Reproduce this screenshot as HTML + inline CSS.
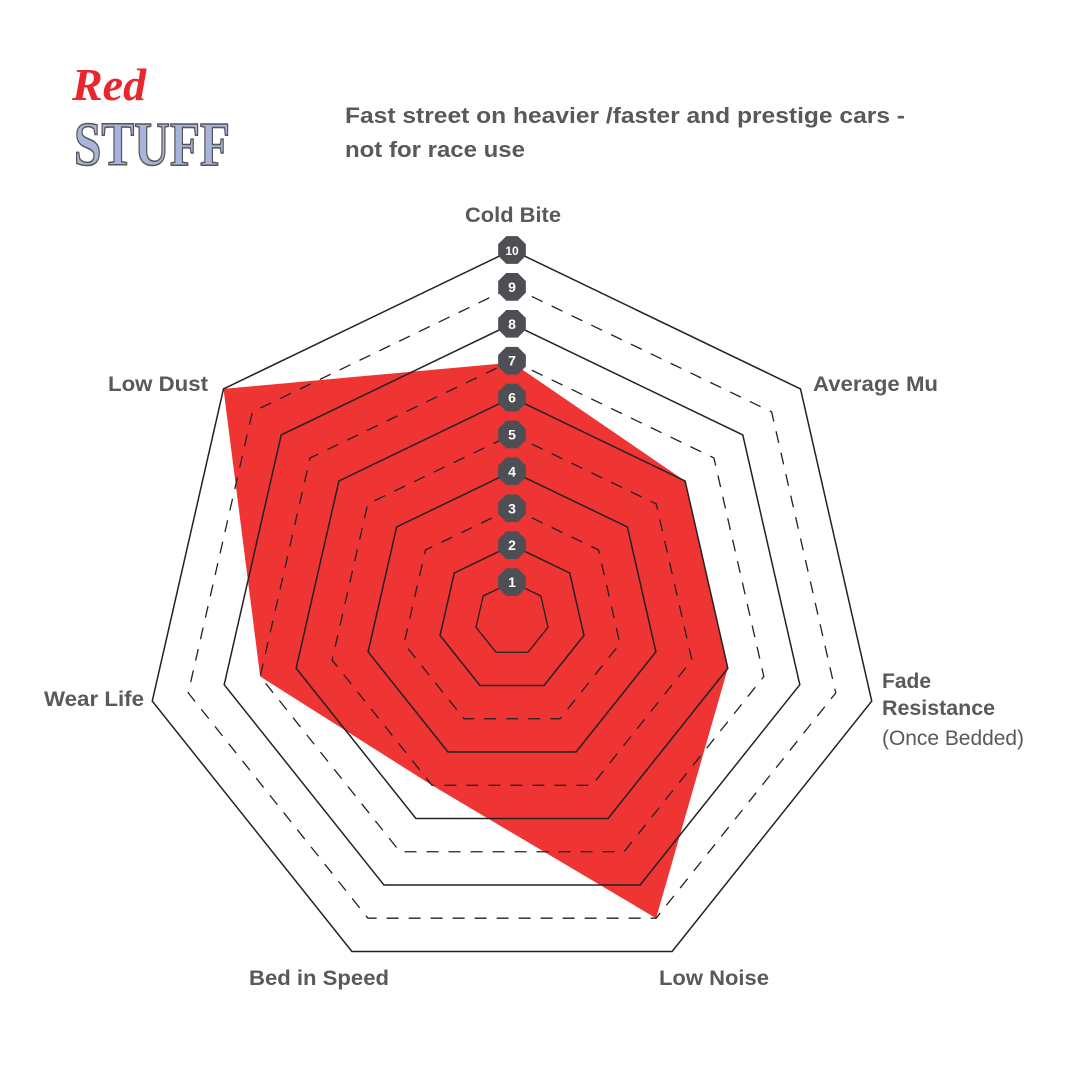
<!DOCTYPE html>
<html><head><meta charset="utf-8"><style>
body{margin:0;background:#fff;width:1080px;height:1080px;overflow:hidden}
svg{display:block}
text{font-family:"Liberation Sans",sans-serif;fill:#58595b;font-weight:bold}
</style></head><body>
<svg id="s" width="1080" height="1080" viewBox="0 0 1080 1080">
<text x="72" y="100" style="font-size:46px;font-style:italic;fill:#e8262b;font-family:'Liberation Serif',serif;font-weight:900">Red</text>
<text x="74" y="165" style="font-size:62px;fill:#a9b4dc;stroke:#555;stroke-width:1.5;font-family:'Liberation Serif',serif;font-weight:900" textLength="156" lengthAdjust="spacingAndGlyphs">STUFF</text>
<text x="345" y="123" style="font-size:22px" textLength="560" lengthAdjust="spacingAndGlyphs">Fast street on heavier /faster and prestige cars -</text>
<text x="345" y="157" style="font-size:22px" textLength="180" lengthAdjust="spacingAndGlyphs">not for race use</text>
<g id="g"></g>
<text x="513" y="222" text-anchor="middle" style="font-size:21px" textLength="96" lengthAdjust="spacingAndGlyphs">Cold Bite</text>
<text x="813" y="391" style="font-size:21px" textLength="125" lengthAdjust="spacingAndGlyphs">Average Mu</text>
<text x="882" y="688" style="font-size:21px">Fade</text>
<text x="882" y="715" style="font-size:21px" textLength="113" lengthAdjust="spacingAndGlyphs">Resistance</text>
<text x="882" y="745" style="font-size:21px;font-weight:normal" textLength="142" lengthAdjust="spacingAndGlyphs">(Once Bedded)</text>
<text x="714" y="985" text-anchor="middle" style="font-size:21px" textLength="110" lengthAdjust="spacingAndGlyphs">Low Noise</text>
<text x="319" y="985" text-anchor="middle" style="font-size:21px" textLength="140" lengthAdjust="spacingAndGlyphs">Bed in Speed</text>
<text x="144" y="706" text-anchor="end" style="font-size:21px" textLength="100" lengthAdjust="spacingAndGlyphs">Wear Life</text>
<text x="208" y="391" text-anchor="end" style="font-size:21px" textLength="100" lengthAdjust="spacingAndGlyphs">Low Dust</text>
</svg>
<script>
var cx=512,cy=619,R=369,g=document.getElementById('g'),h='';
function pt(i,v){var a=i*2*Math.PI/7;return [cx+R*v/10*Math.sin(a),cy-R*v/10*Math.cos(a)];}
function poly(v){var p=[];for(var i=0;i<7;i++)p.push(pt(i,v).join(','));return p.join(' ');}
var d=[6.95,6,6,9,5,7,10],p=[];for(var i=0;i<7;i++)p.push(pt(i,d[i]).join(','));
h+='<polygon points="'+p.join(' ')+'" fill="#ef3434"/>';
for(var v=1;v<=10;v++){h+='<polygon points="'+poly(v)+'" fill="none" stroke="#222" stroke-width="'+(v%2?1.3:1.5)+'"'+(v%2&&v>1?' stroke-dasharray="12,10"':'')+'/>';}
for(var v=1;v<=10;v++){var y=cy-R*v/10,s='';for(var k=0;k<8;k++){var a=k*Math.PI/4+Math.PI/8;s+=(512+15*Math.cos(a))+','+(y+15*Math.sin(a))+' ';}
h+='<polygon points="'+s+'" fill="#4d4f54"/><text x="512" y="'+(y+5)+'" text-anchor="middle" style="font-size:'+(v==10?12:14)+'px;fill:#fff">'+v+'</text>';}
g.innerHTML=h;
</script>
</body></html>
